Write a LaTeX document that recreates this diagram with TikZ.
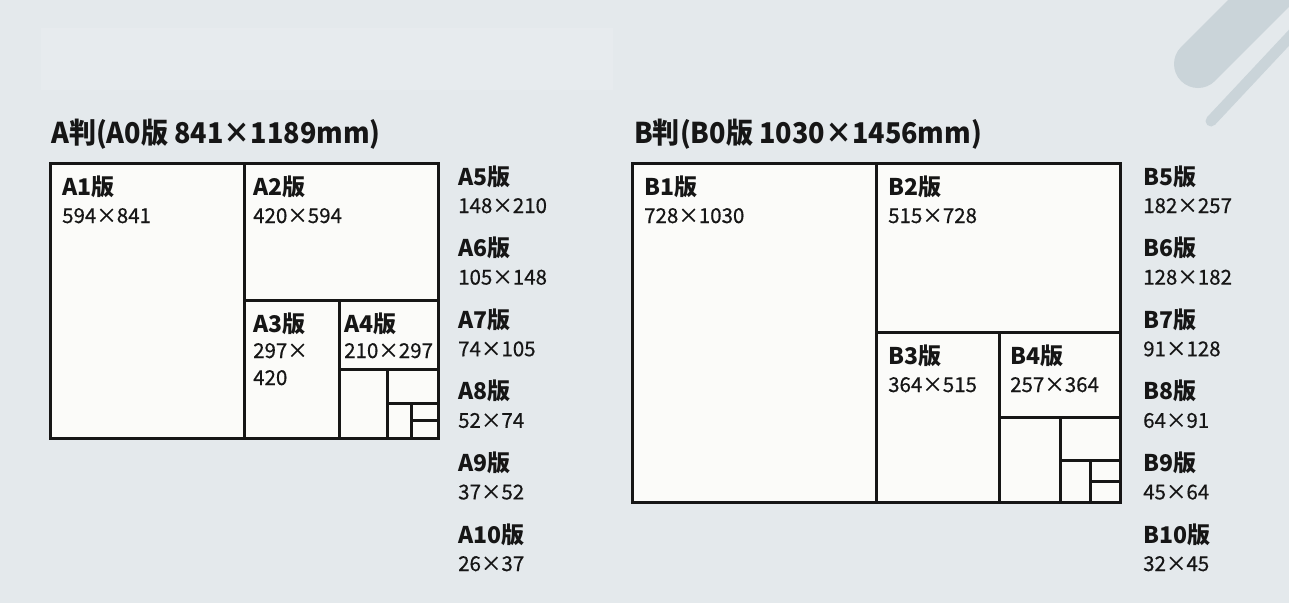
\documentclass[tikz,border=0pt]{standalone}
\usepackage{fontspec}
\setmainfont{Noto Sans CJK JP}
\definecolor{bg}{HTML}{E4E9EC}
\definecolor{ghost}{HTML}{E7EBEE}
\definecolor{deco}{HTML}{CAD4D9}
\definecolor{paper}{HTML}{FBFBF9}
\definecolor{ink}{HTML}{161616}
\tikzset{
  frame/.style={draw=ink, line width=3pt, fill=paper, line join=miter},
  divider/.style={draw=ink, line width=3pt},
  ttl/.style={anchor=base west, inner sep=0pt, text=ink, font=\bfseries\fontsize{28.6}{32}\selectfont\addfontfeatures{FakeStretch=0.945}},
  lbl/.style={anchor=base west, inner sep=0pt, text=ink, font=\bfseries\fontsize{23}{26}\selectfont},
  dim/.style={anchor=base west, inner sep=0pt, text=ink, font=\fontsize{20.5}{24}\selectfont\addfontfeatures{FakeBold=0.5}},
}
\begin{document}
\begin{tikzpicture}[x=1pt,y=-1pt]
\useasboundingbox (0,0) rectangle (1289,603);
\fill[bg] (0,0) rectangle (1289,603);
\fill[ghost] (41,28) rectangle (613,90);
% decoration
\draw[deco, line width=48pt, line cap=round] (1198,64) -- (1340,-78);
\draw[deco, line width=11pt, line cap=round] (1211,121) -- (1300,26);

% ---------- A series ----------
\node[ttl] (atitle) at (51,143) {A判(A0版 841×1189mm)};
\path[frame] (50,163) rectangle (438,438);
\draw[divider] (244,163) -- (244,438);
\draw[divider] (244,300) -- (438,300);
\draw[divider] (339,300) -- (339,438);
\draw[divider] (339,369) -- (438,369);
\draw[divider] (387,369) -- (387,438);
\draw[divider] (387,403) -- (438,403);
\draw[divider] (411,403) -- (411,438);
\draw[divider] (411,420) -- (438,420);

\node[lbl] (a1n) at (62,195) {A1版};
\node[dim] (a1d) at (62,223) {594×841};
\node[lbl] (a2n) at (253,195) {A2版};
\node[dim] (a2d) at (253,223) {420×594};
\node[lbl] (a3n) at (253,332) {A3版};
\node[dim] (a3d) at (253,358) {297×};
\node[dim] (a3e) at (253,385) {420};
\node[lbl] (a4n) at (344,332) {A4版};
\node[dim] (a4d) at (344,358) {210×297};

\node[lbl] (a5n) at (458,185) {A5版};
\node[dim] (a5d) at (458,213) {148×210};
\node[lbl] (a6n) at (458,256.6) {A6版};
\node[dim] (a6d) at (458,284.6) {105×148};
\node[lbl] (a7n) at (458,328.2) {A7版};
\node[dim] (a7d) at (458,356.2) {74×105};
\node[lbl] (a8n) at (458,399.8) {A8版};
\node[dim] (a8d) at (458,427.8) {52×74};
\node[lbl] (a9n) at (458,471.4) {A9版};
\node[dim] (a9d) at (458,499.4) {37×52};
\node[lbl] (a10n) at (458,543) {A10版};
\node[dim] (a10d) at (458,571) {26×37};

% ---------- B series ----------
\node[ttl] (btitle) at (634,143) {B判(B0版 1030×1456mm)};
\path[frame] (632,163) rectangle (1120,502);
\draw[divider] (876,163) -- (876,502);
\draw[divider] (876,332) -- (1120,332);
\draw[divider] (999,332) -- (999,502);
\draw[divider] (999,417) -- (1120,417);
\draw[divider] (1060,417) -- (1060,502);
\draw[divider] (1060,460) -- (1120,460);
\draw[divider] (1090,460) -- (1090,502);
\draw[divider] (1090,481) -- (1120,481);

\node[lbl] (b1n) at (644,195) {B1版};
\node[dim] (b1d) at (644,223) {728×1030};
\node[lbl] (b2n) at (888,195) {B2版};
\node[dim] (b2d) at (888,223) {515×728};
\node[lbl] (b3n) at (888,364) {B3版};
\node[dim] (b3d) at (888,392) {364×515};
\node[lbl] (b4n) at (1010,364) {B4版};
\node[dim] (b4d) at (1010,392) {257×364};

\node[lbl] (b5n) at (1143,185) {B5版};
\node[dim] (b5d) at (1143,213) {182×257};
\node[lbl] (b6n) at (1143,256.6) {B6版};
\node[dim] (b6d) at (1143,284.6) {128×182};
\node[lbl] (b7n) at (1143,328.2) {B7版};
\node[dim] (b7d) at (1143,356.2) {91×128};
\node[lbl] (b8n) at (1143,399.8) {B8版};
\node[dim] (b8d) at (1143,427.8) {64×91};
\node[lbl] (b9n) at (1143,471.4) {B9版};
\node[dim] (b9d) at (1143,499.4) {45×64};
\node[lbl] (b10n) at (1143,543) {B10版};
\node[dim] (b10d) at (1143,571) {32×45};
\end{tikzpicture}
\end{document}
